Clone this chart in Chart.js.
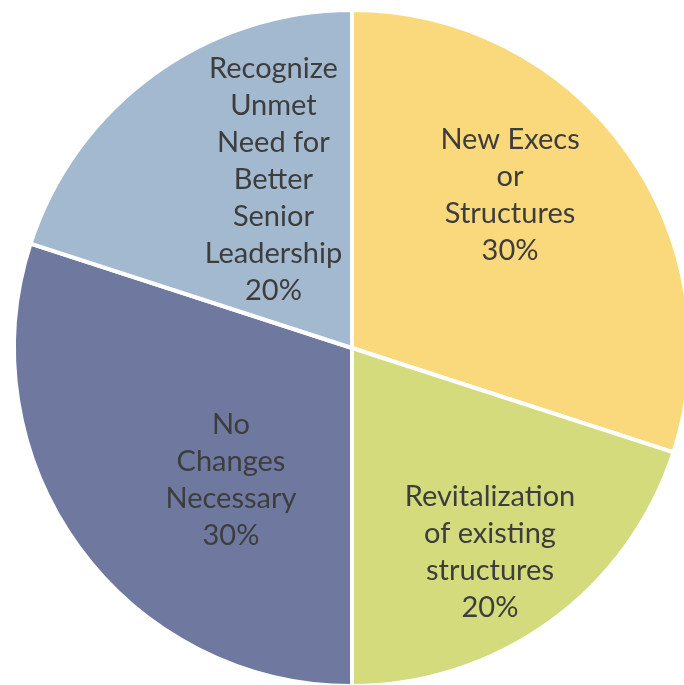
<!DOCTYPE html>
<html>
<head>
<meta charset="utf-8">
<script src="https://cdn.jsdelivr.net/npm/chart.js@4.4.1/dist/chart.umd.min.js"></script>
<style>
  html, body { margin: 0; padding: 0; background: #fff; overflow: hidden; }
  #wrap { position: absolute; left: 0; top: 0; width: 704px; height: 696px; }
</style>
</head>
<body>
<div id="wrap"><canvas id="pie"></canvas></div>
<script>
// datos de la gráfica
const categorias = [
  ['New Execs', 'or', 'Structures'],
  ['Revitalization', 'of existing', 'structures'],
  ['No', 'Changes', 'Necessary'],
  ['Recognize', 'Unmet', 'Need for', 'Better', 'Senior', 'Leadership']
];
const valores = [30, 20, 30, 20];
const colores = ['#FAD87C', '#D4DB7C', '#6F799F', '#A3B9CF'];

// posición de las etiquetas: [desfase de ángulo en grados, fracción del radio]
const posEtiquetas = [[-8, 0.65], [2, 0.73], [-11.5, 0.53], [11, 0.55]];

const total = valores.reduce((a, b) => a + b, 0);

const etiquetasPlugin = {
  id: 'etiquetas',
  afterDatasetsDraw(chart) {
    const ctx = chart.ctx;
    const meta = chart.getDatasetMeta(0);
    ctx.save();
    ctx.font = '29px Lato, "Open Sans", sans-serif';
    ctx.fillStyle = '#3d3d3d';
    ctx.textAlign = 'center';
    ctx.textBaseline = 'middle';
    const alto = 37;
    meta.data.forEach((arc, i) => {
      const p = arc.getProps(['x', 'y', 'startAngle', 'endAngle', 'outerRadius'], true);
      const medio = (p.startAngle + p.endAngle) / 2 + posEtiquetas[i][0] * Math.PI / 180;
      const r = p.outerRadius * posEtiquetas[i][1];
      const cx = p.x + Math.cos(medio) * r;
      const cy = p.y + Math.sin(medio) * r;
      const lineas = categorias[i].concat([Math.round(valores[i] / total * 100) + '%']);
      const y0 = cy - (lineas.length - 1) * alto / 2;
      lineas.forEach((l, j) => ctx.fillText(l, cx, y0 + j * alto));
    });
    ctx.restore();
  }
};

new Chart(document.getElementById('pie').getContext('2d'), {
  type: 'pie',
  data: {
    labels: categorias.map(c => c.join(' ')),
    datasets: [{
      data: valores,
      backgroundColor: colores,
      borderColor: '#ffffff',
      borderWidth: 4
    }]
  },
  options: {
    responsive: true,
    maintainAspectRatio: false,
    animation: false,
    layout: { padding: { left: 12, right: 12, top: 8, bottom: 8 } },
    plugins: { legend: { display: false }, tooltip: { enabled: false } }
  },
  plugins: [etiquetasPlugin]
});
</script>
</body>
</html>
